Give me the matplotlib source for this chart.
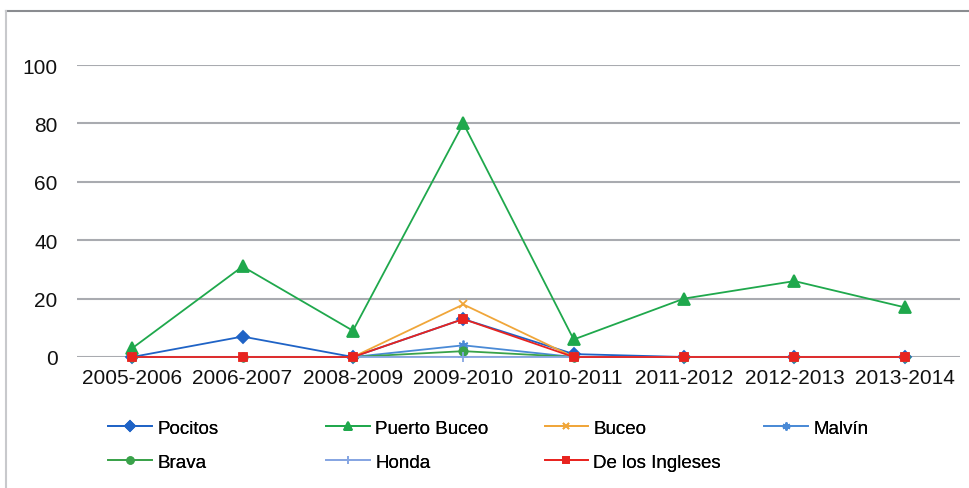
import matplotlib
matplotlib.use("Agg")
import matplotlib.pyplot as plt
from matplotlib.lines import Line2D

plt.rcParams['font.family'] = ['Liberation Sans', 'DejaVu Sans']

seasons = ["2005-2006", "2006-2007", "2008-2009", "2009-2010",
           "2010-2011", "2011-2012", "2012-2013", "2013-2014"]

pocitos = [0, 7, 0, 13, 1, 0, 0, 0]
puerto_buceo = [3, 31, 9, 80, 6, 20, 26, 17]
buceo = [0, 0, 0, 18, 0, 0, 0, 0]
malvin = [0, 0, 0, 4, 0, 0, 0, 0]
brava = [0, 0, 0, 2, 0, 0, 0, 0]
honda = [0, 0, 0, 0, 0, 0, 0, 0]
ingleses = [0, 0, 0, 13, 0, 0, 0, 0]

series = [
    ("Pocitos", pocitos, "#1f63c6", "D", 6),
    ("Puerto Buceo", puerto_buceo, "#1fa84c", "^", 8),
    ("Buceo", buceo, "#f0a63a", "x", 6),
    ("Malvín", malvin, "#4a8ad6", (6, 2, 0), 7),
    ("Brava", brava, "#3aa24a", "o", 6),
    ("Honda", honda, "#86a6e2", "+", 7),
    ("De los Ingleses", ingleses, "#e8231f", "s", 6),
]

fig = plt.figure(figsize=(9.7, 4.89), dpi=100)
ax = fig.add_axes([77 / 970, 1 - 358 / 489, (960 - 77) / 970, (358 - 66) / 489])

x = list(range(len(seasons)))
handles = {}
for name, vals, color, marker, ms in series:
    h, = ax.plot(x, vals, color=color, lw=1.3, marker=marker, ms=ms,
                 mec=color, mfc=color, mew=1.3, label=name, clip_on=False)
    handles[name] = h

ax.set_xlim(-0.5, len(seasons) - 0.5)
ax.set_ylim(0, 100)
ax.set_yticks([0, 20, 40, 60, 80, 100])
ax.set_xticks(x)
ax.set_xticklabels(seasons)
ax.tick_params(axis="both", length=0, labelsize=15, colors="#111111")
ax.tick_params(axis="y", pad=14)
ax.tick_params(axis="x", pad=8)
ax.yaxis.grid(True, color="#a9abb0", lw=1.5)
ax.set_axisbelow(True)
for side in ["top", "right", "left", "bottom"]:
    ax.spines[side].set_visible(False)

# legend laid out in four equal columns
columns = [["Pocitos", "Brava"], ["Puerto Buceo", "Honda"],
           ["Buceo", "De los Ingleses"], ["Malvín"]]
col_x = [101, 319, 537, 757]
for cx, names in zip(col_x, columns):
    leg = fig.legend([handles[n] for n in names], names,
                     loc="upper left", bbox_to_anchor=(cx / 970, 1 - 413 / 489),
                     frameon=False, fontsize=13.5, handlelength=2.3,
                     handletextpad=0.3, labelspacing=0.9, borderaxespad=0,
                     markerscale=0.8)
    fig.add_artist(leg)

# outer chart frame
fig.add_artist(Line2D([6 / 970, 1.0], [1 - 12 / 489, 1 - 12 / 489],
                      transform=fig.transFigure, color="#8a8c90", lw=1.5))
fig.add_artist(Line2D([6 / 970, 6 / 970], [0, 1 - 12 / 489],
                      transform=fig.transFigure, color="#c8c9cc", lw=1.5))

fig.savefig("out.png", dpi=100)
